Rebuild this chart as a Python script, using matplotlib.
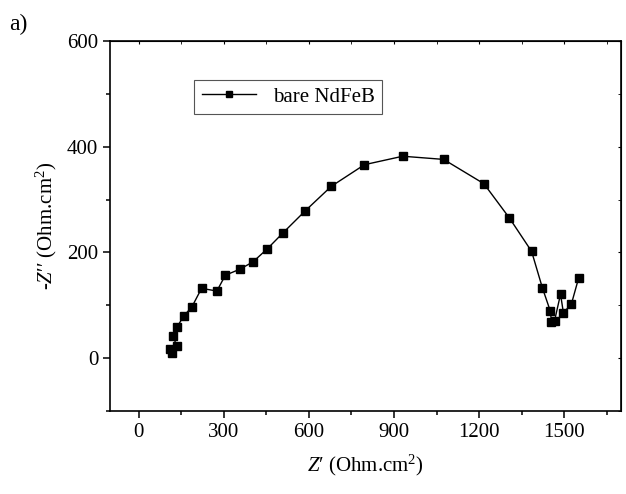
import matplotlib
matplotlib.use("Agg")
import matplotlib.pyplot as plt
from matplotlib.ticker import MultipleLocator

plt.rcParams["font.family"] = ["Liberation Serif", "DejaVu Serif"]
plt.rcParams["mathtext.fontset"] = "custom"
plt.rcParams["mathtext.rm"] = "Liberation Serif"
plt.rcParams["mathtext.it"] = "Liberation Serif:italic"

# Nyquist data, bare NdFeB
z_real = [117, 112, 134, 122, 135, 159, 187, 222, 276, 306, 356, 403, 454, 509,
          586, 679, 796, 931, 1075, 1217, 1307, 1385, 1423, 1451, 1455, 1466,
          1487, 1497, 1525, 1551]
z_imag = [9, 18, 23, 42, 58, 80, 96, 132, 127, 157, 168, 182, 207, 237,
          278, 325, 366, 382, 376, 330, 265, 202, 133, 89, 69, 71,
          121, 86, 102, 152]

x_ticks = [0, 300, 600, 900, 1200, 1500]
y_ticks = [0, 200, 400, 600]

fig = plt.figure(figsize=(6.26, 4.94), dpi=100)
ax = fig.add_axes([0.176, 0.168, 0.816, 0.749])

ax.plot(z_real, z_imag, color="black", lw=1.0, marker="s", ms=6.3,
        label="bare NdFeB")

ax.set_xlim(-100, 1700)
ax.set_ylim(-100, 600)
ax.set_xticks(x_ticks)
ax.set_yticks(y_ticks)
ax.xaxis.set_minor_locator(MultipleLocator(150))
ax.yaxis.set_minor_locator(MultipleLocator(100))

ax.tick_params(which="both", direction="out", labelsize=15, width=1.1)
ax.tick_params(which="major", length=5)
ax.tick_params(which="minor", length=3)
for s in ax.spines.values():
    s.set_linewidth(1.2)

# small inward ticks on top and right
top = ax.secondary_xaxis("top")
top.set_xticks(x_ticks)
top.xaxis.set_minor_locator(MultipleLocator(150))
top.tick_params(which="both", direction="in", length=2, labeltop=False)
right = ax.secondary_yaxis("right")
right.set_yticks(y_ticks)
right.yaxis.set_minor_locator(MultipleLocator(100))
right.tick_params(which="both", direction="in", length=2, labelright=False)

ax.set_xlabel("$Z$′ (Ohm.cm$^{2}$)", fontsize=15, labelpad=8)
ax.set_ylabel("-$Z$′′ (Ohm.cm$^{2}$)", fontsize=15, labelpad=6)

leg = ax.legend(loc="upper left", bbox_to_anchor=(0.165, 0.895), fontsize=15,
                fancybox=False, edgecolor="#555555", framealpha=1,
                borderaxespad=0, handlelength=2.6, markerscale=0.75,
                borderpad=0.35)
leg.get_frame().set_linewidth(0.8)

fig.text(0.015, 0.94, "a)", fontsize=17)

fig.savefig("out.png", dpi=100)
